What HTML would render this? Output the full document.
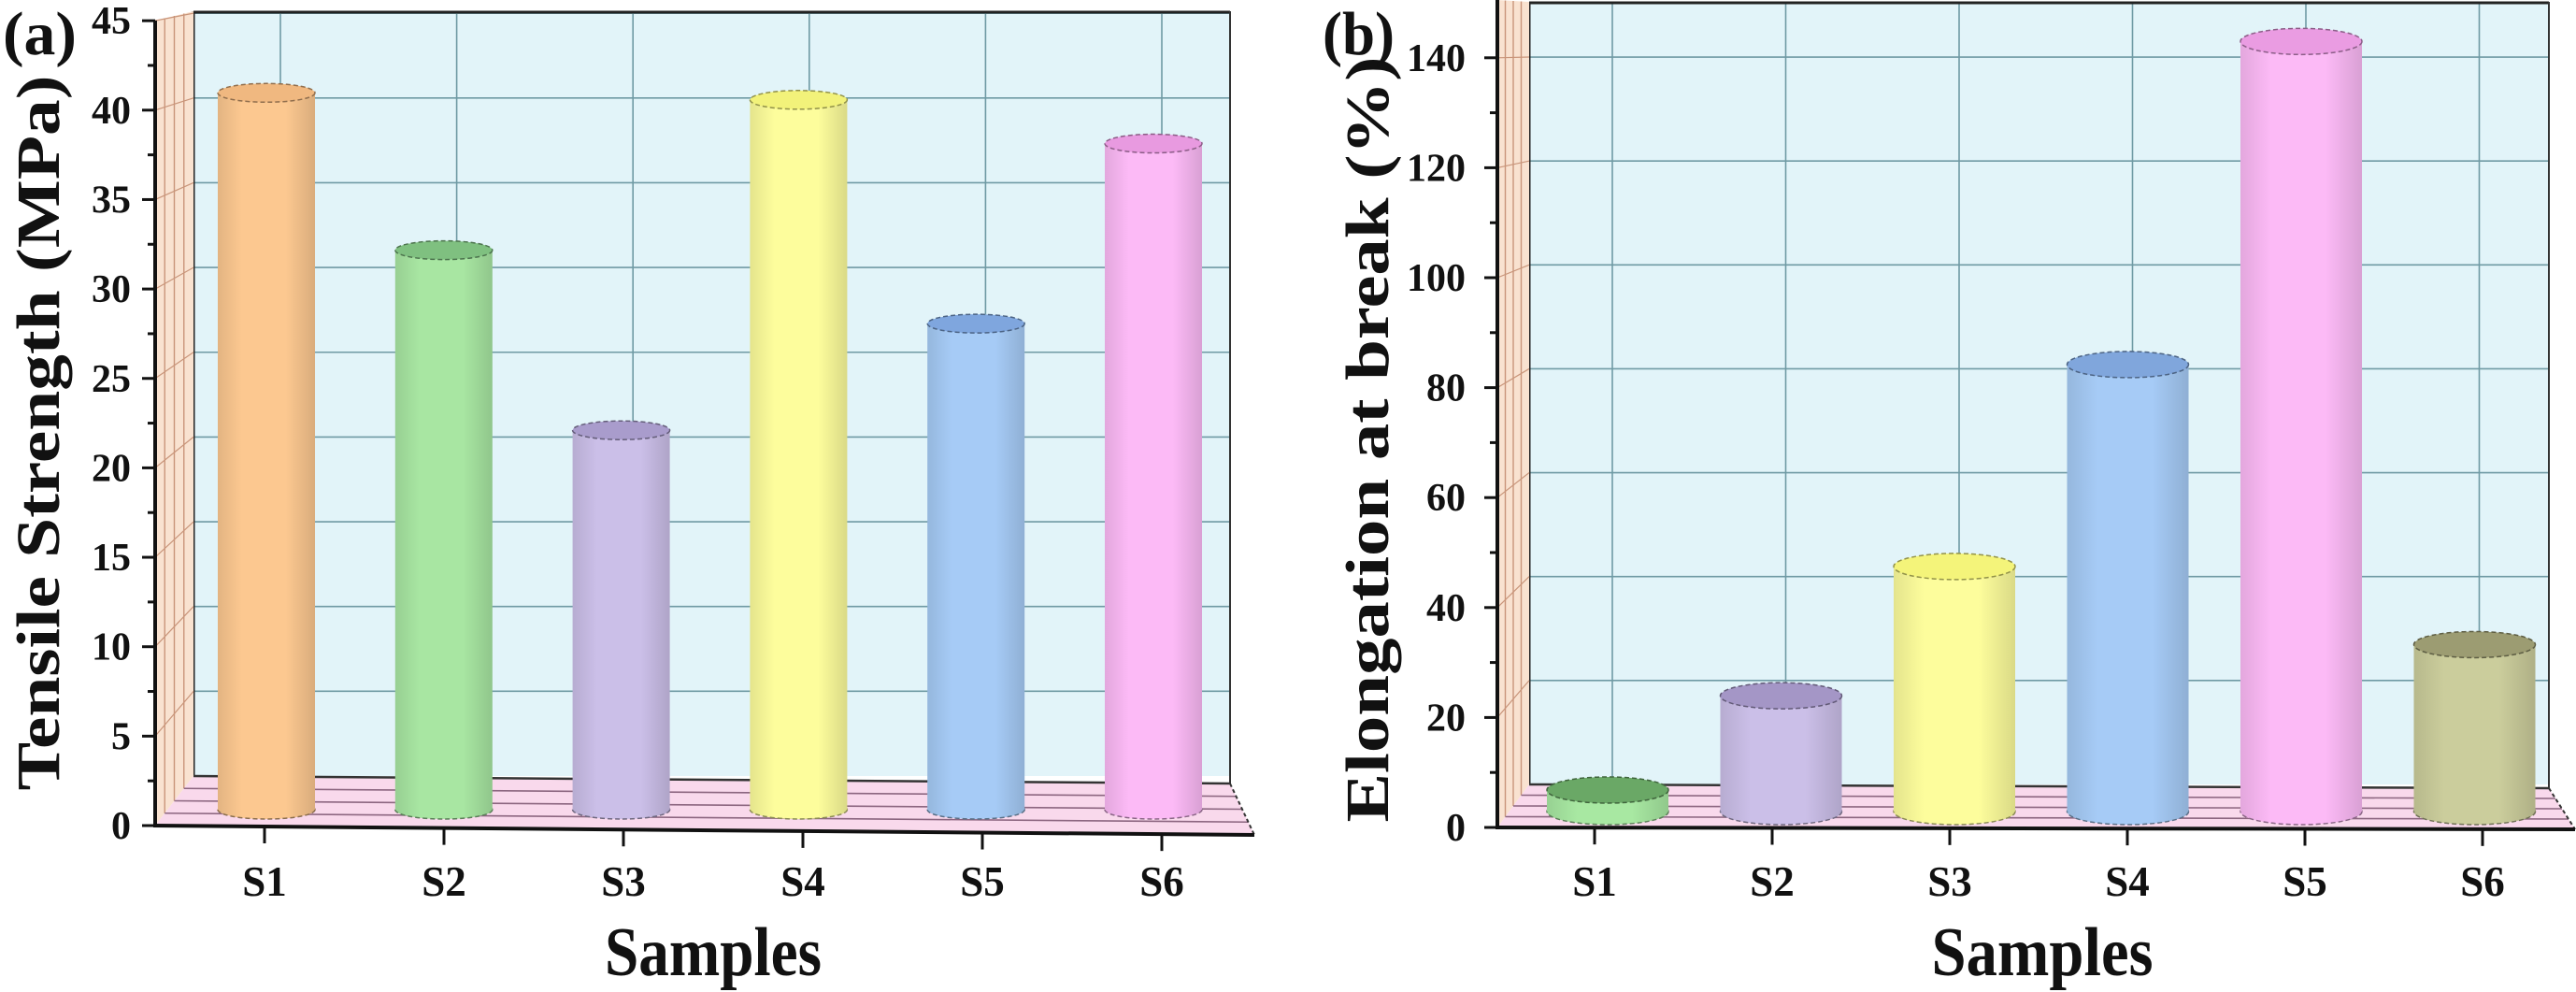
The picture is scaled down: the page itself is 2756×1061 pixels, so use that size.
<!DOCTYPE html>
<html><head><meta charset="utf-8"><style>
html,body{margin:0;padding:0;background:#fff;}
svg{display:block;}
text{font-family:"Liberation Serif",serif;font-weight:bold;fill:#111;}
</style></head><body>
<svg id="fig" width="2756" height="1061" viewBox="0 0 2756 1061" xmlns="http://www.w3.org/2000/svg">
<defs id="defs"></defs>
</svg>
<script>
// ---- data ----
const categories = ["S1","S2","S3","S4","S5","S6"];
const tensileValues = [41, 32, 21.7, 40.6, 27.8, 38.1];
const elongationValues = [4, 21.5, 45.5, 83, 143, 31];
const tensileTicks = ["0","5","10","15","20","25","30","35","40","45"];
const elongationTicks = ["0","20","40","60","80","100","120","140"];
const tensileColors = ["#fcc890","#a8e6a2","#cbbfe8","#fdfd9c","#a6cbf6","#fcbaf6"];
const tensileTopColors = ["#f0b880","#7fc080","#a99ccc","#f2f27a","#7fa6de","#e89ae0"];
const elongationColors = ["#a8e8a2","#cbbfe8","#fdfd9c","#a6cbf6","#fcbaf6","#cbcd9c"];
const elongationTopColors = ["#6aa866","#a496c6","#f4f47a","#80a6dc","#ea9ce2","#9c9c72"];

const NS = "http://www.w3.org/2000/svg";
const svg = document.getElementById('fig');
const defs = document.getElementById('defs');
function mk(tag, attrs, parent){
  const e = document.createElementNS(NS, tag);
  for (const k in attrs) e.setAttribute(k, attrs[k]);
  (parent||svg).appendChild(e);
  return e;
}
function shade(hex, f){
  const n = parseInt(hex.slice(1),16);
  let r=(n>>16)&255,g=(n>>8)&255,b=n&255;
  r=Math.round(r*f);g=Math.round(g*f);b=Math.round(b*f);
  return "rgb("+r+","+g+","+b+")";
}

function panel(cfg){
  const g = mk('g', {});
  
  
  const yBack = v => cfg.backZero - v*cfg.backUnit;
  const yFront = v => cfg.frontZero - v*cfg.frontUnit;
  const yBar = v => cfg.baseY - v*cfg.barUnit;
  const xBar = i => cfg.barX0 + i*cfg.barStep;
  const xTick = i => cfg.tickX0 + i*cfg.tickStep;
  const xGrid = i => cfg.gridX0 + i*cfg.gridStep;

  const wall = mk('rect', {x:cfg.wallL, y:cfg.wallTop, width:cfg.wallR-cfg.wallL, height:cfg.backZero-cfg.wallTop, fill:'#e2f4f9'}, g);
  
  
  for (let k=0;k<cfg.ticks.length;k++){
    const v = +cfg.ticks[k];
    if (v===0) continue;
    const ln = mk('line', {x1:cfg.wallL, x2:cfg.wallR, y1:yBack(v), y2:yBack(v), stroke:'#6f9aa4', 'stroke-width':1.6}, g);
    
    
  }
  for (let i=0;i<cfg.cats.length;i++){
    const ln = mk('line', {x1:xGrid(i), x2:xGrid(i), y1:cfg.wallTop, y2:cfg.backZero, stroke:'#6f9aa4', 'stroke-width':1.6}, g);
    
    
  }
  mk('line', {x1:cfg.wallL, x2:cfg.wallR, y1:cfg.wallTop+1, y2:cfg.wallTop+1, stroke:'#222', 'stroke-width':3}, g);
  mk('line', {x1:cfg.wallR, x2:cfg.wallR, y1:cfg.wallTop, y2:cfg.backZeroR, stroke:'#333', 'stroke-width':2}, g);
  mk('line', {x1:cfg.wallL, x2:cfg.wallL, y1:cfg.wallTop, y2:cfg.backZero, stroke:'#222', 'stroke-width':3}, g);

  const side = mk('polygon', {points:[cfg.axisX,cfg.frontTop, cfg.wallL,cfg.wallTop, cfg.wallL,cfg.backZero, cfg.axisX,cfg.frontZero].join(','), fill:'#f9e2d0'}, g);
  
  
  for (let j=1;j<=3;j++){
    const t=j/4;
    mk('line',{x1:cfg.axisX+(cfg.wallL-cfg.axisX)*t, x2:cfg.axisX+(cfg.wallL-cfg.axisX)*t, y1:cfg.frontTop+(cfg.wallTop-cfg.frontTop)*t, y2:cfg.frontZero+(cfg.backZero-cfg.frontZero)*t, stroke:'#c9957a','stroke-width':1.4}, g);
  }
  for (let k=1;k<cfg.ticks.length;k++){
    const v=+cfg.ticks[k];
    mk('line',{x1:cfg.axisX, x2:cfg.wallL, y1:yFront(v), y2:yBack(v), stroke:'#c9957a','stroke-width':1.2}, g);
  }

  const floor = mk('polygon', {points:[cfg.wallL,cfg.backZero, cfg.wallR,cfg.backZeroR, cfg.frontR,cfg.frontZeroR, cfg.axisX,cfg.frontZero].join(','), fill:'#f9d9ec'}, g);
  
  
  for (let j=1;j<=3;j++){
    const t=j/4;
    mk('line',{x1:cfg.wallL+(cfg.axisX-cfg.wallL)*t, y1:cfg.backZero+(cfg.frontZero-cfg.backZero)*t,
      x2:cfg.wallR+(cfg.frontR-cfg.wallR)*t, y2:cfg.backZeroR+(cfg.frontZeroR-cfg.backZeroR)*t, stroke:'#8c6680','stroke-width':1.6}, g);
  }
  mk('line',{x1:cfg.wallL,y1:cfg.backZero,x2:cfg.wallR,y2:cfg.backZeroR,stroke:'#333','stroke-width':2.5}, g);
  mk('line',{x1:cfg.wallR,y1:cfg.backZeroR,x2:cfg.frontR,y2:cfg.frontZeroR,stroke:'#333','stroke-width':2,'stroke-dasharray':'4,3'}, g);

  for (let i=0;i<cfg.cats.length;i++){
    const cx = xBar(i), r = cfg.barR, ry = cfg.ry;
    const top = yBar(cfg.values[i]), base = cfg.baseY;
    const gid = cfg.id+'grad'+i;
    const lg = mk('linearGradient',{id:gid,x1:0,x2:1,y1:0,y2:0}, defs);
    mk('stop',{offset:'0','stop-color':shade(cfg.colors[i],0.9)}, lg);
    mk('stop',{offset:'0.25','stop-color':cfg.colors[i]}, lg);
    mk('stop',{offset:'0.7','stop-color':cfg.colors[i]}, lg);
    mk('stop',{offset:'1','stop-color':shade(cfg.colors[i],0.86)}, lg);
    const bg = mk('g',{}, g);
    
    
    mk('ellipse',{cx:cx,cy:base,rx:r,ry:ry,fill:'url(#'+gid+')',stroke:shade(cfg.colors[i],0.55),'stroke-width':1.5,'stroke-dasharray':'5,3'}, bg);
    mk('rect',{x:cx-r,y:top,width:2*r,height:Math.max(0,base-top),fill:'url(#'+gid+')'}, bg);
    mk('ellipse',{cx:cx,cy:top,rx:r,ry:ry,fill:cfg.topColors[i],stroke:shade(cfg.topColors[i],0.6),'stroke-width':1.5,'stroke-dasharray':'5,3'}, bg);
  }

  mk('line',{x1:cfg.axisX,y1:cfg.frontTop,x2:cfg.axisX,y2:cfg.frontZero,stroke:'#111','stroke-width':4}, g);
  mk('line',{x1:cfg.axisX-2,y1:cfg.frontZero,x2:cfg.frontR,y2:cfg.frontZeroR,stroke:'#111','stroke-width':4}, g);
  for (let k=0;k<cfg.ticks.length;k++){
    const v=+cfg.ticks[k];
    mk('line',{x1:cfg.axisX-14,x2:cfg.axisX,y1:yFront(v),y2:yFront(v),stroke:'#111','stroke-width':3}, g);
    if (k<cfg.ticks.length-1){
      const vm = v + (cfg.ticks[1]-cfg.ticks[0])/2;
      mk('line',{x1:cfg.axisX-8,x2:cfg.axisX,y1:yFront(vm),y2:yFront(vm),stroke:'#111','stroke-width':3}, g);
    }
    const t = mk('text',{x:cfg.tickLabelR,y:yFront(v)+14,'text-anchor':'end','font-size':42}, g);
    t.textContent = cfg.ticks[k];
    
    
  }
  for (let i=0;i<cfg.cats.length;i++){
    const x = xTick(i);
    const y0 = cfg.frontZero + (cfg.frontZeroR-cfg.frontZero)*(x-cfg.axisX)/(cfg.frontR-cfg.axisX);
    mk('line',{x1:x,x2:x,y1:y0,y2:y0+18,stroke:'#111','stroke-width':3}, g);
    const t = mk('text',{x:x,y:958,'text-anchor':'middle','font-size':45}, g);
    t.textContent = cfg.cats[i];
    
    
  }
  const xt = mk('text',{x:cfg.xTitleX,y:1043,'text-anchor':'middle','font-size':74,textLength:cfg.xTitleW,lengthAdjust:'spacingAndGlyphs'}, g);
  xt.textContent = 'Samples';
  
  
  const yt = mk('text',{x:0,y:0,'text-anchor':'middle','font-size':66,textLength:cfg.yTitleLen,lengthAdjust:'spacingAndGlyphs',transform:'translate('+cfg.yTitleX+','+cfg.yTitleY+') rotate(-90)'}, g);
  yt.textContent = cfg.yTitle;
  
  
  const pl = mk('text',{x:cfg.labelX,y:58,'font-size':66,textLength:cfg.labelW,lengthAdjust:'spacingAndGlyphs'}, g);
  pl.textContent = cfg.label;
  
  
}

panel({name:'tensile-chart', id:'a', cats:categories, values:tensileValues, ticks:tensileTicks,
  colors:tensileColors, topColors:tensileTopColors,
  wallL:207, wallR:1316, wallTop:12, backZero:830, backZeroR:838, backUnit:18.13,
  axisX:166, frontTop:22, frontZero:883, frontZeroR:893, frontR:1342, frontUnit:19.13,
  baseY:866, barUnit:18.7, barX0:285, barStep:189.8, barR:52, ry:10,
  tickX0:283, tickStep:192, gridX0:300, gridStep:188.6, tickLabelR:140,
  xTitleX:763, xTitleW:232, yTitle:'Tensile Strength (MPa)', yTitleX:63, yTitleY:463, yTitleLen:765,
  label:'(a)', labelX:3, labelW:79});

panel({name:'elongation-chart', id:'b', cats:categories, values:elongationValues, ticks:elongationTicks,
  colors:elongationColors, topColors:elongationTopColors,
  wallL:1636, wallR:2727, wallTop:2, backZero:839, backZeroR:843, backUnit:5.557,
  axisX:1602, frontTop:0, frontZero:885, frontZeroR:887, frontR:2755, frontUnit:5.88,
  baseY:868, barUnit:5.76, barX0:1720, barStep:185.5, barR:65, ry:14,
  tickX0:1706, tickStep:190, gridX0:1725, gridStep:185.5, tickLabelR:1568,
  xTitleX:2185, xTitleW:237, yTitle:'Elongation at break (%)', yTitleX:1485, yTitleY:470, yTitleLen:819,
  label:'(b)', labelX:1415, labelW:77});
</script>
</body></html>
